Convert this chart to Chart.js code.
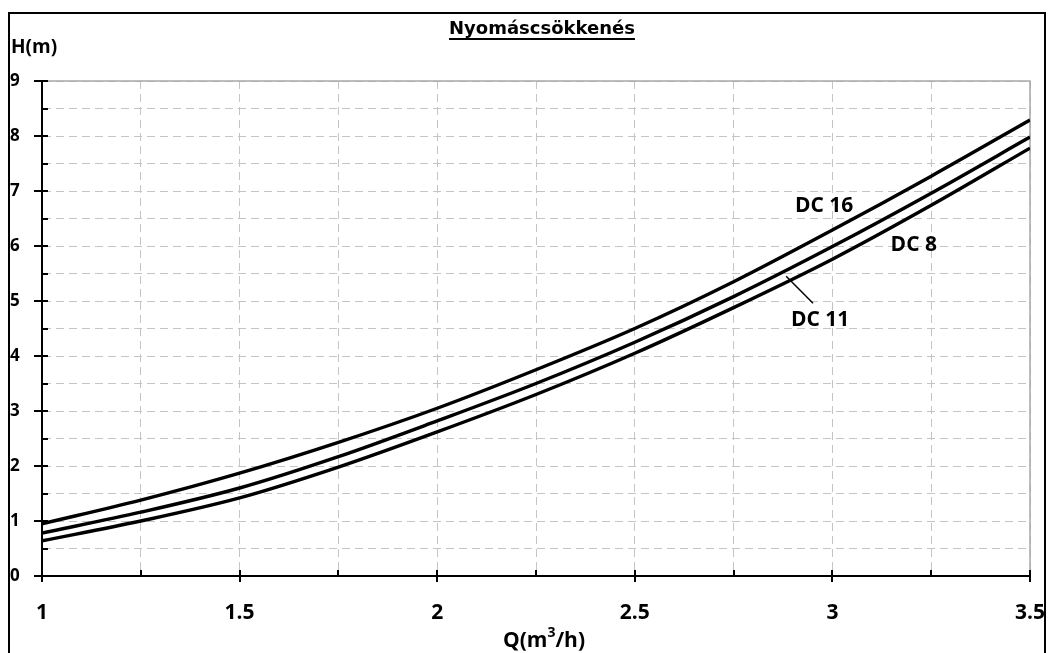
<!DOCTYPE html>
<html>
<head>
<meta charset="utf-8">
<script src="https://cdn.jsdelivr.net/npm/chart.js@4"></script>
<style>
  html, body { margin: 0; padding: 0; background: #fff; }
  #wrap { width: 1050px; height: 653px; }
</style>
</head>
<body>
<div id="wrap"><canvas id="chart" width="1050" height="653"></canvas></div>
<script>
// flow Q (m3/h)
const flow = [1, 1.25, 1.5, 1.75, 2, 2.25, 2.5, 2.75, 3, 3.25, 3.5];
// head loss H (m)
const dc16 = [0.95, 1.38, 1.87, 2.43, 3.05, 3.75, 4.5, 5.35, 6.29, 7.27, 8.29];
const dc11 = [0.78, 1.16, 1.6, 2.17, 2.82, 3.5, 4.25, 5.08, 5.99, 6.96, 7.98];
const dc8 = [0.64, 1.0, 1.42, 1.98, 2.62, 3.3, 4.05, 4.88, 5.76, 6.74, 7.78];

const xTicks = ["1", "1.5", "2", "2.5", "3", "3.5"];
const yTicks = ["0", "1", "2", "3", "4", "5", "6", "7", "8", "9"];

const pts = (ys) => flow.map((x, i) => ({ x: x, y: ys[i] }));

const extras = {
  id: "extras",
  beforeDatasetsDraw(chart) {
    const { ctx, scales: { x, y } } = chart;
    ctx.save();
    ctx.strokeStyle = "#a8a8a8";
    ctx.lineWidth = 1.5;
    ctx.beginPath();
    ctx.moveTo(x.left, y.getPixelForValue(9));
    ctx.lineTo(x.getPixelForValue(3.5), y.getPixelForValue(9));
    ctx.lineTo(x.getPixelForValue(3.5), y.bottom);
    ctx.stroke();
    ctx.restore();
  },
  afterDraw(chart) {
    const { ctx, scales: { x, y } } = chart;
    ctx.save();
    ctx.strokeStyle = "#000";
    ctx.lineWidth = 2;
    // tick marks
    for (let v = 0; v <= 9; v += 0.5) {
      const py = Math.round(y.getPixelForValue(v));
      const major = Number.isInteger(v);
      ctx.beginPath();
      ctx.moveTo(x.left - (major ? 8 : 0), py);
      ctx.lineTo(x.left + 6, py);
      ctx.stroke();
    }
    for (let v = 1; v <= 3.5001; v += 0.25) {
      const px = Math.round(x.getPixelForValue(v));
      const major = Math.abs(v * 2 - Math.round(v * 2)) < 1e-6;
      ctx.beginPath();
      ctx.moveTo(px, y.bottom - 6);
      ctx.lineTo(px, y.bottom + (major ? 6 : 0));
      ctx.stroke();
    }
    // outer frame
    ctx.strokeRect(9, 13, 1036, 700);

    // title
    ctx.fillStyle = "#000";
    ctx.font = "bold 18px 'DejaVu Sans', sans-serif";
    ctx.textAlign = "center";
    ctx.textBaseline = "alphabetic";
    const title = "Nyomáscsökkenés";
    ctx.fillText(title, 542, 34);
    const tw = ctx.measureText(title).width;
    ctx.fillRect(542 - tw / 2, 38, tw, 2);

    ctx.font = "bold 19px 'Open Sans', sans-serif";
    ctx.textAlign = "left";
    ctx.textBaseline = "middle";
    ctx.fillText("H(m)", 11, 48);

    // x axis title with raised 3
    ctx.font = "bold 21px 'Open Sans', sans-serif";
    const a = "Q(m", b = "3", c = "/h)";
    const wa = ctx.measureText(a).width, wc = ctx.measureText(c).width;
    ctx.font = "bold 14px 'Open Sans', sans-serif";
    const wb = ctx.measureText(b).width;
    let sx = 544 - (wa + wb + wc) / 2;
    ctx.font = "bold 21px 'Open Sans', sans-serif";
    ctx.fillText(a, sx, 641);
    ctx.font = "bold 14px 'Open Sans', sans-serif";
    ctx.fillText(b, sx + wa, 633);
    ctx.font = "bold 21px 'Open Sans', sans-serif";
    ctx.fillText(c, sx + wa + wb, 641);

    // curve labels
    ctx.textAlign = "center";
    ctx.fillText("DC 16", x.getPixelForValue(2.979), y.getPixelForValue(6.73));
    ctx.fillText("DC 8", x.getPixelForValue(3.206), y.getPixelForValue(6.02));
    ctx.fillText("DC 11", x.getPixelForValue(2.969), y.getPixelForValue(4.65));
    ctx.lineWidth = 1.5;
    ctx.beginPath();
    ctx.moveTo(x.getPixelForValue(2.883), y.getPixelForValue(5.45));
    ctx.lineTo(x.getPixelForValue(2.951), y.getPixelForValue(4.96));
    ctx.stroke();
    ctx.restore();
  }
};

const line = (label, ys) => ({
  label: label,
  data: pts(ys),
  borderColor: "#000",
  borderWidth: 3.4,
  pointRadius: 0,
  fill: false,
  cubicInterpolationMode: "monotone"
});

new Chart(document.getElementById("chart"), {
  type: "line",
  data: {
    datasets: [line("DC 16", dc16), line("DC 11", dc11), line("DC 8", dc8)]
  },
  options: {
    responsive: false,
    animation: false,
    layout: { padding: { left: 10, right: 20, top: 81, bottom: 0 } },
    plugins: { legend: { display: false }, tooltip: { enabled: false } },
    scales: {
      x: {
        type: "linear",
        min: 1,
        max: 3.5,
        afterFit: (s) => { s.height = 77; s.paddingLeft = 0; s.paddingRight = 0; },
        ticks: {
          stepSize: 0.25,
          autoSkip: false,
          maxRotation: 0,
          padding: 24,
          color: "#000",
          font: { family: "'Open Sans', sans-serif", size: 21, weight: "bold" },
          callback: (v) => xTicks.includes(String(v)) ? String(v) : ""
        },
        grid: { color: "#c4c4c4", lineWidth: 1, drawTicks: false },
        border: { color: "#000", width: 2, dash: [8, 5] }
      },
      y: {
        min: 0,
        max: 9,
        afterFit: (s) => { s.width = 32; s.paddingTop = 0; s.paddingBottom = 0; },
        ticks: {
          stepSize: 0.5,
          autoSkip: false,
          crossAlign: "far",
          padding: 0,
          color: "#000",
          font: { family: "'Open Sans', sans-serif", size: 17, weight: "bold" },
          callback: (v) => yTicks.includes(String(v)) ? String(v) : ""
        },
        grid: { color: "#c4c4c4", lineWidth: 1, drawTicks: false },
        border: { color: "#000", width: 2, dash: [8, 5] }
      }
    }
  },
  plugins: [extras]
});
</script>
</body>
</html>
